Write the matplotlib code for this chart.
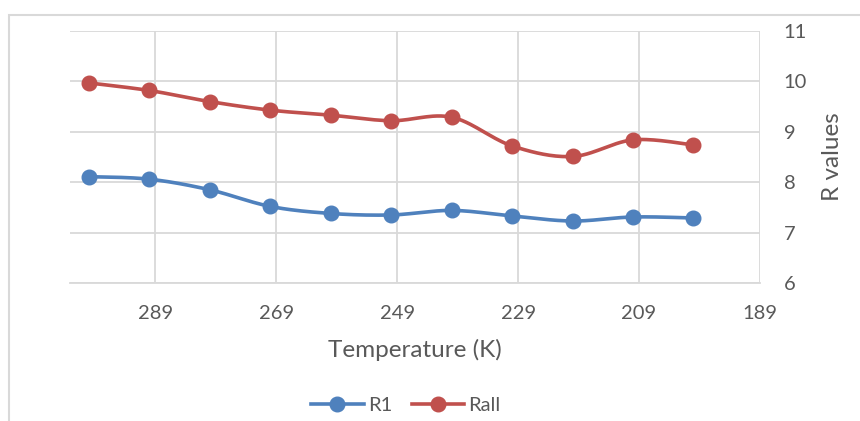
import numpy as np
import matplotlib
matplotlib.use("Agg")
import matplotlib.pyplot as plt
from matplotlib.lines import Line2D
from matplotlib.patches import Rectangle

plt.rcParams['font.family'] = ['Lato', 'DejaVu Sans']

temperature = [300, 290, 280, 270, 260, 250, 240, 230, 220, 210, 200]
r1 = [8.11, 8.06, 7.85, 7.52, 7.38, 7.35, 7.44, 7.33, 7.23, 7.31, 7.29]
rall = [9.97, 9.82, 9.60, 9.43, 9.33, 9.22, 9.29, 8.72, 8.51, 8.84, 8.74]
x_ticks = [289, 269, 249, 229, 209, 189]
y_ticks = [6, 7, 8, 9, 10, 11]

blue = '#4F81BD'
red = '#C0504D'
text_col = '#595959'
grid_col = '#D9D9D9'


def smooth(xs, ys, n=30):
    xs = np.asarray(xs, float)
    ys = np.asarray(ys, float)
    px, py = [], []
    m = len(xs)
    for i in range(m - 1):
        x0, y0 = xs[i], ys[i]
        x3, y3 = xs[i + 1], ys[i + 1]
        xm, ym = (xs[i - 1], ys[i - 1]) if i > 0 else (x0, y0)
        xp, yp = (xs[i + 2], ys[i + 2]) if i + 2 < m else (x3, y3)
        x1 = x0 + (x3 - xm) / 6.0
        y1 = y0 + (y3 - ym) / 6.0
        x2 = x3 - (xp - x0) / 6.0
        y2 = y3 - (yp - y0) / 6.0
        t = np.linspace(0, 1, n)
        bx = (1 - t) ** 3 * x0 + 3 * (1 - t) ** 2 * t * x1 + 3 * (1 - t) * t ** 2 * x2 + t ** 3 * x3
        by = (1 - t) ** 3 * y0 + 3 * (1 - t) ** 2 * t * y1 + 3 * (1 - t) * t ** 2 * y2 + t ** 3 * y3
        px.extend(bx)
        py.extend(by)
    return px, py


fig = plt.figure(figsize=(8.6, 4.21), dpi=100)
fig.patch.set_facecolor('white')
# outer chart border (partially visible)
fig.add_artist(Rectangle((9 / 860, -0.1), 1.2, 1 - 15 / 421 + 0.1, transform=fig.transFigure,
                         fill=False, edgecolor='#D9D9D9', linewidth=1.5))

ax = fig.add_axes([70 / 860, 1 - 283 / 421, 690 / 860, 252 / 421])
ax.set_xlim(303.1, 189)
ax.set_ylim(6, 11)
ax.set_xticks(x_ticks)
ax.set_yticks(y_ticks)
ax.yaxis.tick_right()
ax.yaxis.set_label_position('right')
ax.grid(True, color=grid_col, linewidth=1.3)
ax.set_axisbelow(True)
for s in ['top', 'left', 'right']:
    ax.spines[s].set_visible(False)
ax.spines['bottom'].set_color(grid_col)
ax.spines['bottom'].set_linewidth(1.3)
ax.tick_params(length=0, labelsize=14.5, labelcolor=text_col)
ax.tick_params(axis='x', pad=16)
ax.tick_params(axis='y', pad=17)

for ys, c in [(r1, blue), (rall, red)]:
    sx, sy = smooth(temperature, ys)
    ax.plot(sx, sy, color=c, linewidth=2.6, solid_capstyle='round', zorder=3)
    ax.plot(temperature, ys, linestyle='none', marker='o', markersize=10.5,
            color=c, zorder=4)

ax.set_xlabel('Temperature (K)', fontsize=17.5, color=text_col, labelpad=12)
ax.set_ylabel('R values', fontsize=17.5, color=text_col, labelpad=11)

handles = [Line2D([], [], color=blue, linewidth=2.6, marker='o', markersize=10.5),
           Line2D([], [], color=red, linewidth=2.6, marker='o', markersize=10.5)]
fig.legend(handles, ['R1', 'Rall'], loc='center', bbox_to_anchor=(406 / 860, 1 - 405 / 421),
           ncol=2, frameon=False, fontsize=14.5, labelcolor=text_col,
           handlelength=2.6, handletextpad=0.2, columnspacing=1.0)

fig.savefig('out.png', dpi=100, facecolor='white')
